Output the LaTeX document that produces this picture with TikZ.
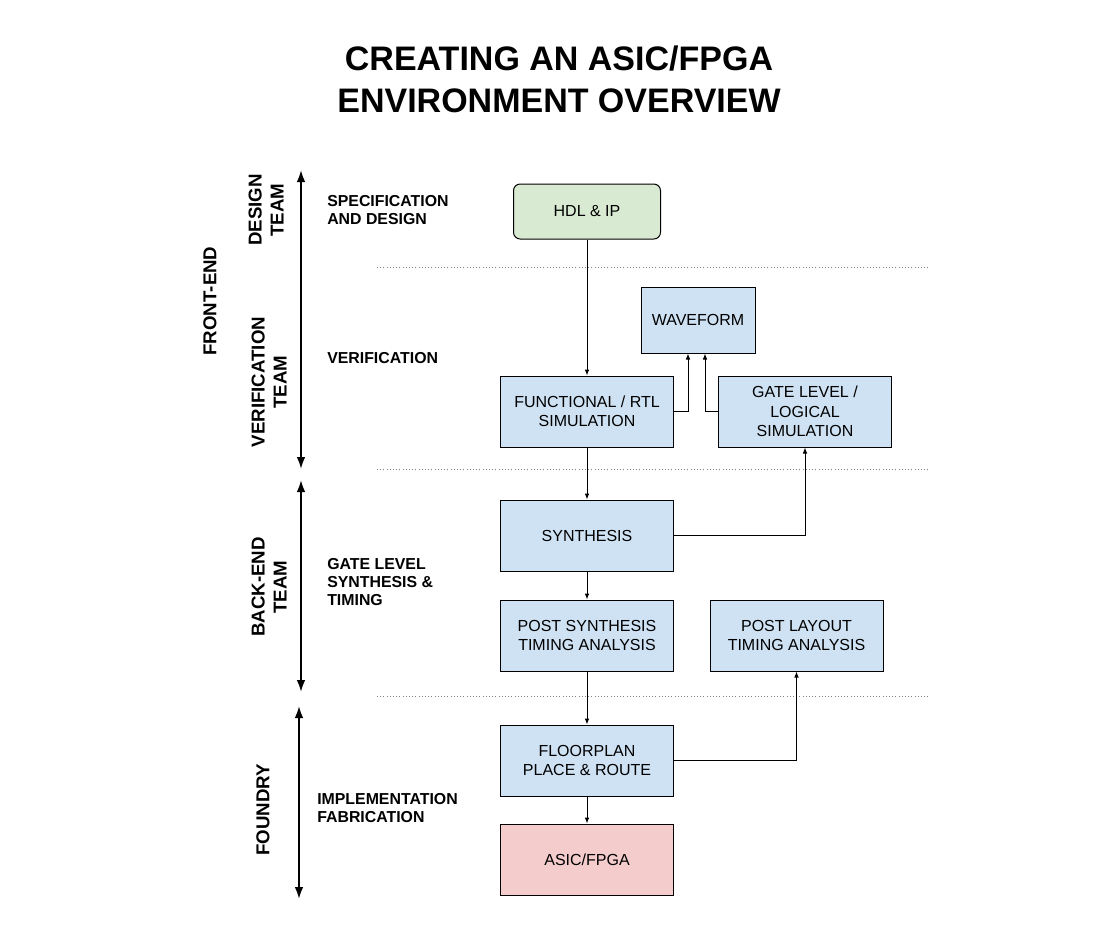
\documentclass[tikz,border=0pt]{standalone}
\usepackage{fontspec}
\setmainfont{Liberation Sans}
\usetikzlibrary{arrows,arrows.meta,positioning}
\definecolor{boxgreen}{HTML}{D9EAD3}
\definecolor{boxblue}{HTML}{CFE2F3}
\definecolor{boxpink}{HTML}{F4CCCC}
\newcommand\boxfont{\fontsize{12}{14.6}\selectfont}
\newcommand\sidefont{\fontsize{11.9}{13.5}\selectfont\bfseries}
\newcommand\teamfont{\fontsize{14}{16.5}\selectfont\bfseries}

\begin{document}
\begin{tikzpicture}[x=0.75pt,y=-0.75pt]%
        \useasboundingbox (0,0) rectangle (1118,951); %%
        \node[font=\fontsize{25.5}{31.5}\selectfont\bfseries,align=center] (title) at (559,79) {CREATING AN ASIC/FPGA\\ENVIRONMENT OVERVIEW}; %%
        % dotted separators
        \draw[dotted,gray] (377,267) -- (930,267); %%
        \draw[dotted,gray] (377,469) -- (930,469); %%
        \draw[dotted,gray] (377,696) -- (930,696); %%
        \begin{scope}[shape=rectangle,inner sep=.05cm]
        \tikzstyle{every node}=[draw,line width=.75pt,align=center,font=\boxfont,fill=boxblue,minimum width=129.75pt,minimum height=53.25pt] %%
        \node[fill=boxgreen,rounded corners=5pt,minimum width=110.25pt,minimum height=41.25pt] (hdl) at (587,211.5)  {HDL \& IP}; %%
        \node[minimum width=85.5pt,minimum height=49.5pt] (wave) at (698,320)  {WAVEFORM}; %%
        \node (rtlsim) at (587,411.5)  {FUNCTIONAL / RTL\\SIMULATION}; %%
        \node (gatesim) at (805,411.5)  {GATE LEVEL /\\LOGICAL\\SIMULATION}; %%
        \node (synth) at (587,535.5)  {SYNTHESIS}; %%
        \node (postsyn) at (587,635.5)  {POST SYNTHESIS\\TIMING ANALYSIS}; %%
        \node (postlay) at (796.5,635.5)  {POST LAYOUT\\TIMING ANALYSIS}; %%
        \node (floor) at (587,760.5)  {FLOORPLAN\\PLACE \& ROUTE}; %%
        \node[fill=boxpink] (asic) at (587,859.5)  {ASIC/FPGA}; %%
        \end{scope}
        \begin{scope}
        \tikzstyle{every node}=[font=\sidefont,align=left,anchor=west,inner sep=0pt] %%
        \node (specl) at (327,210)  {SPECIFICATION\\AND DESIGN}; %%
        \node (verifl) at (327,358)  {VERIFICATION}; %%
        \node (gatel) at (327,582)  {GATE LEVEL\\SYNTHESIS \&\\TIMING}; %%
        \node (impl) at (317,808)  {IMPLEMENTATION\\FABRICATION}; %%
        \end{scope}
        \begin{scope}
        \tikzstyle{every node}=[font=\teamfont,rotate=90,align=center] %%
        \node (front) at (210,301)  {FRONT-END}; %%
        \node (design) at (266,210)  {DESIGN\\TEAM}; %%
        \node (verteam) at (269,382)  {VERIFICATION\\TEAM}; %%
        \node (backteam) at (269,587)  {BACK-END\\TEAM}; %%
        \node (foundry) at (263,810)  {FOUNDRY}; %%
        \end{scope}
        % team spans
        \coordinate (fe1) at (301,170); \coordinate (fe2) at (301,469); %%
        \coordinate (be1) at (301,480); \coordinate (be2) at (301,692); %%
        \coordinate (fo1) at (299,706); \coordinate (fo2) at (299,899); %%
        \tikzstyle{span}=[{Latex[length=9pt,width=6.5pt]}-{Latex[length=9pt,width=6.5pt]},line width=1.5pt] %%
        \draw[span] (fe1)--(fe2); %%
        \draw[span] (be1)--(be2); %%
        \draw[span] (fo1)--(fo2); %%
        % flow
        \tikzstyle{flow}=[-{Latex[length=4.5pt,width=3.5pt]},line width=.75pt] %%
        \draw[flow] (hdl)--(rtlsim); %%
        \draw[flow] (rtlsim.east)-|([xshift=-7.5pt]wave.south); %%
        \draw[flow] (gatesim.west)-|([xshift=5.25pt]wave.south); %%
        \draw[flow] (rtlsim)--(synth); %%
        \draw[flow] (synth.east)-|(gatesim.south); %%
        \draw[flow] (synth)--(postsyn); %%
        \draw[flow] (postsyn)--(floor); %%
        \draw[flow] (floor.east)-|(postlay.south); %%
        \draw[flow] (floor)--(asic); %%
\end{tikzpicture}
\end{document}
